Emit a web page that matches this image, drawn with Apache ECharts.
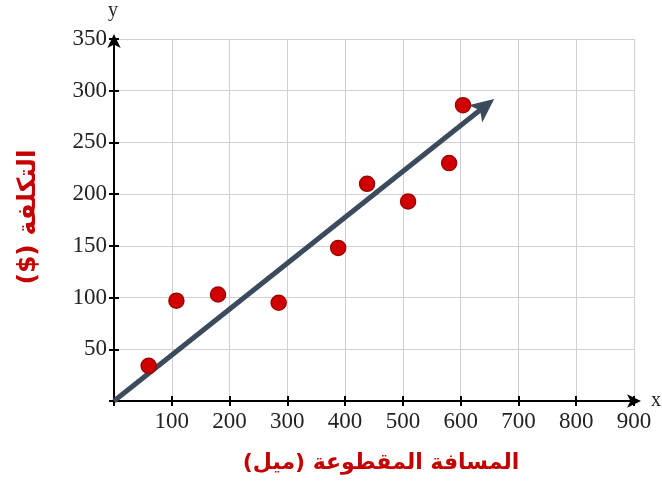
<!DOCTYPE html>
<html><head><meta charset="utf-8">
<script src="https://cdn.jsdelivr.net/npm/echarts@6/dist/echarts.min.js"></script>
<style>html,body{margin:0;padding:0;background:#fff}#c{width:662px;height:494px}</style>
</head><body><div id="c"></div>
<script>
const distances = [60, 108, 180, 285, 388, 438, 509, 580, 604];
const costs = [34, 97, 103, 95, 148, 210, 193, 230, 286];
const trendStart = [0, 0];
const trendShaftEnd = [644, 286];
const trendTip = [658, 292];
const xTicks = [100, 200, 300, 400, 500, 600, 700, 800, 900];
const yTicks = [50, 100, 150, 200, 250, 300, 350];
const xTitle = 'المسافة المقطوعة (ميل)';
const yTitle = 'التكلفة ($)';

const chart = echarts.init(document.getElementById('c'), null, {renderer: 'canvas'});
const labelFont = {fontFamily: 'Liberation Serif', fontSize: 23, color: '#222'};
const trendColor = '#3b4a5c';
// arrow head pointing up, tip at the symbol centre (first subpath only pads the box)
const arrowPath = 'path://M0,-24L0.001,-24L0,-23.999Z M0,0L11,24L0,18L-11,24Z';
chart.setOption({
  animation: false,
  grid: {left: 114, right: 28, top: 39, bottom: 93, containLabel: false},
  xAxis: [{
    type: 'value', min: 0, max: 900, interval: 100,
    axisLine: {show: true, lineStyle: {color: '#000', width: 2}, symbol: ['none', 'arrow'], symbolSize: [10, 14], symbolOffset: [0, 7]},
    axisTick: {show: true, length: 5, lineStyle: {color: '#000', width: 2}},
    axisLabel: Object.assign({margin: 9, formatter: v => xTicks.includes(v) ? String(v) : ''}, labelFont),
    splitLine: {show: true, lineStyle: {color: '#d0d0d0', width: 1}}
  }, {
    type: 'value', min: 0, max: 900, interval: 100, position: 'bottom', offset: 0,
    axisLine: {show: false}, axisTick: {show: true, inside: true, length: 5, lineStyle: {color: '#000', width: 2}},
    axisLabel: {show: false}, splitLine: {show: false}
  }],
  yAxis: [{
    type: 'value', min: 0, max: 350, interval: 50,
    axisLine: {show: true, lineStyle: {color: '#000', width: 2}, symbol: ['none', 'arrow'], symbolSize: [10, 14], symbolOffset: [0, 5]},
    axisTick: {show: true, length: 5, lineStyle: {color: '#000', width: 2}},
    axisLabel: Object.assign({margin: 7, formatter: v => yTicks.includes(v) ? String(v) : ''}, labelFont),
    splitLine: {show: true, lineStyle: {color: '#d0d0d0', width: 1}}
  }, {
    type: 'value', min: 0, max: 350, interval: 50, position: 'left', offset: 0,
    axisLine: {show: false}, axisTick: {show: true, inside: true, length: 5, lineStyle: {color: '#000', width: 2}},
    axisLabel: {show: false}, splitLine: {show: false}
  }],
  series: [{
    name: 'trend', type: 'line', xAxisIndex: 0, yAxisIndex: 0,
    data: [trendStart, trendShaftEnd], symbol: 'none', silent: true,
    lineStyle: {color: trendColor, width: 5, cap: 'butt'}, z: 3
  }, {
    name: 'arrowhead', type: 'scatter', xAxisIndex: 0, yAxisIndex: 0,
    data: [trendTip], symbol: arrowPath, symbolSize: [22, 48], silent: true,
    itemStyle: {color: trendColor, opacity: 1, borderWidth: 0}, z: 3
  }, {
    name: 'points', type: 'scatter',
    xAxisIndex: 0, yAxisIndex: 0,
    data: distances.map((d, i) => [d, costs[i]]),
    symbolSize: 15,
    itemStyle: {color: '#d00000', borderColor: '#a00000', borderWidth: 1.5, opacity: 1},
    z: 5
  }],
  graphic: [
    {type: 'text', left: 651, top: 391, style: {text: 'x', font: '20px "Liberation Serif"', fill: '#222'}},
    {type: 'text', left: 108, top: 1, style: {text: 'y', font: '20px "Liberation Serif"', fill: '#222'}},
    {type: 'text', x: 381, y: 463, style: {text: xTitle, font: 'bold 22px "DejaVu Sans"', fill: '#c40000', align: 'center', verticalAlign: 'middle'}},
    {type: 'text', x: 28, y: 217, rotation: Math.PI / 2, style: {text: '\u202B' + yTitle + '\u202C', font: 'bold 25px "DejaVu Sans"', fill: '#c40000', align: 'center', verticalAlign: 'middle'}}
  ]
});
const p0 = chart.convertToPixel({xAxisIndex: 0, yAxisIndex: 0}, trendStart);
const p1 = chart.convertToPixel({xAxisIndex: 0, yAxisIndex: 0}, trendTip);
const ang = Math.atan2(p0[1] - p1[1], p1[0] - p0[0]) * 180 / Math.PI;
chart.setOption({series: [{}, {symbolRotate: ang - 90}, {}]});
</script></body></html>
